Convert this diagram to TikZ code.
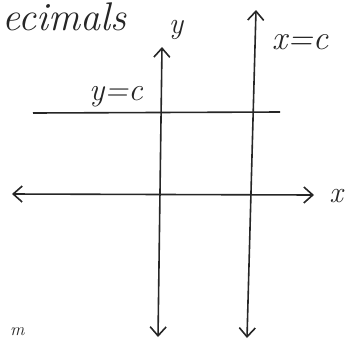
\documentclass[tikz,border=0pt]{standalone}
\usetikzlibrary{arrows.meta}
\begin{document}
\begin{tikzpicture}[x=1pt,y=-1pt,
  ink/.style={line width=1.6pt,color=black!85},
  both/.style={ink,{Straight Barb[length=9pt,width=16pt]}-{Straight Barb[length=9pt,width=16pt]}},
  hand/.style={text=black!85,inner sep=0pt}]
\useasboundingbox (0,0) rectangle (345,341);
% y-axis
\coordinate (yt) at (162,47);
\coordinate (yb) at (158,337);
\draw[both] (yb) -- (yt);
% line x=c
\coordinate (ct) at (256,10);
\coordinate (cb) at (247,338);
\draw[both] (cb) -- (ct);
% x-axis
\coordinate (xl) at (12,194);
\coordinate (xr) at (314,195);
\draw[both] (xl) -- (xr);
% line y=c
\coordinate (hl) at (33,113);
\coordinate (hr) at (280,112);
\draw[ink] (hl) -- (hr);
% labels
\node[hand,anchor=north west,font=\itshape\fontsize{40}{40}\selectfont] (title) at (2,3) {ecimals};
\node[hand,font=\itshape\fontsize{30}{30}\selectfont] (ylab) at (176,30) {y};
\node[hand,font=\itshape\fontsize{34}{34}\selectfont] (xclab) at (300,42) {x=c};
\node[hand,font=\itshape\fontsize{32}{32}\selectfont] (yclab) at (116,97) {y=c};
\node[hand,anchor=east,font=\itshape\fontsize{30}{30}\selectfont] (xlab) at (343,196) {x};
\node[hand,anchor=south west,font=\itshape\fontsize{18}{18}\selectfont] (mlab) at (10,336) {m};
\end{tikzpicture}
\end{document}
